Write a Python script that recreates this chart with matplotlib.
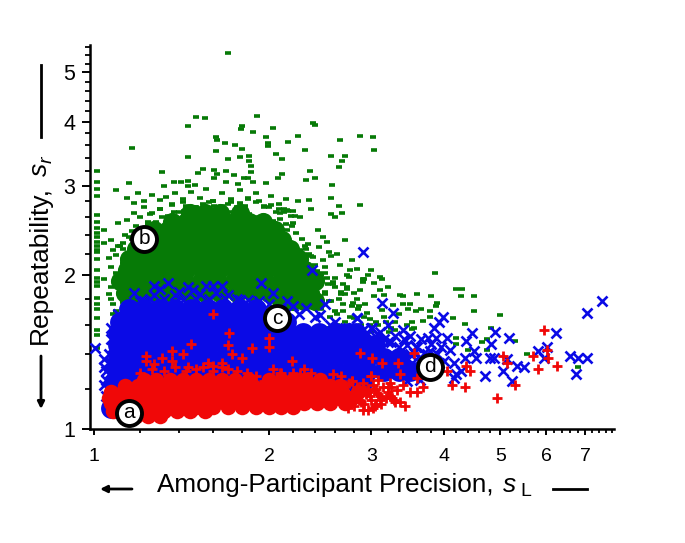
import matplotlib
matplotlib.use("Agg")
import matplotlib.pyplot as plt
from matplotlib.ticker import FixedLocator, FixedFormatter, NullFormatter

plt.rcParams['font.family'] = ['Liberation Sans', 'DejaVu Sans']

# dense cores: one row of x readings per y level
green_core_rows = {
    1.78: [1.15,1.2,2.1,2.2,2.3,2.4],
    1.85: [1.13,1.2,1.28,1.36,1.45,1.55,1.65,1.76,1.88,2.0,2.12,2.25,2.35],
    1.95: [1.11,1.18,1.26,1.34,1.43,1.53,1.63,1.74,1.85,1.97,2.1,2.22,2.33,2.4],
    2.05: [1.14,1.2,1.27,1.35,1.44,1.54,1.64,1.75,1.86,1.98,2.1,2.22,2.31],
    2.15: [1.15,1.21,1.29,1.37,1.46,1.56,1.66,1.77,1.88,1.99,2.12,2.25],
    2.25: [1.18,1.24,1.32,1.4,1.49,1.59,1.69,1.8,1.91,2.03,2.17],
    2.35: [1.21,1.28,1.36,1.45,1.55,1.65,1.76,1.87,1.99,2.11],
    2.45: [1.27,1.34,1.42,1.51,1.61,1.72,1.83,1.95,2.05],
    2.55: [1.36,1.44,1.53,1.63,1.74,1.85,1.95],
    2.65: [1.46,1.55,1.65,1.78],
}
blue_core_rows = {
    1.10: [1.07,1.09],
    1.16: [1.08,1.12],
    1.24: [1.09,1.14,1.2,1.26,1.4,1.6,1.8,2.0,2.2,2.4,2.6,2.8,2.9],
    1.30: [1.1,1.16,1.23,1.31,1.39,1.48,1.58,1.68,1.79,1.9,2.02,2.15,2.29,2.44,2.6,2.77,2.95,3.15,3.35,3.5],
    1.38: [1.1,1.16,1.23,1.31,1.39,1.48,1.58,1.68,1.79,1.9,2.02,2.15,2.29,2.44,2.6,2.77,2.95,3.15,3.35],
    1.46: [1.1,1.16,1.23,1.31,1.39,1.48,1.58,1.68,1.79,1.9,2.02,2.15,2.29,2.44,2.6,2.77,2.95,3.05],
    1.54: [1.1,1.16,1.23,1.31,1.39,1.48,1.58,1.68,1.79,1.9,2.02,2.15,2.29,2.44,2.6,2.75,2.82],
    1.62: [1.11,1.17,1.24,1.32,1.4,1.49,1.59,1.69,1.8,1.91,2.03,2.14],
    1.72: [1.15,1.22,1.3,1.38,1.47,1.57,1.67,1.78,1.9],
}
red_core_rows = {
    1.06: [1.13,1.18,1.24,1.3],
    1.085: [1.08,1.13,1.19,1.25,1.32,1.39,1.46,1.55],
    1.105: [1.5,1.6,1.7,1.8,1.9,2.0,2.1,2.2],
    1.125: [1.07,1.12,1.18,1.24,1.31,1.38,1.45,1.53,1.61,1.69,1.78,1.87,1.97,2.07,2.18,2.3,2.42,2.55,2.7],
    1.15: [1.06,1.11,1.17,1.23,1.3,1.37,1.44,1.52,1.6,1.68,1.77,1.86,1.96,2.06,2.17,2.28,2.4,2.52,2.65,2.78],
    1.18: [1.07,1.12,1.18,1.24,1.31,1.38,1.45,1.53,1.61,1.69,1.78,1.87,1.97,2.07,2.18,2.29,2.41,2.54,2.67,2.85],
    1.215: [1.13,1.19,1.25,1.32,1.39,1.46,1.54,1.62,1.7,1.79,1.88,1.98,2.08,2.19,2.3,2.42,2.55,2.65],
    1.25: [1.22,1.28,1.35,1.42,1.5,1.58,1.66,1.75,1.85,2.0,2.1,2.2,2.32,2.45],
}

# individually readable points
green_x = [1.7,1.5,1.55,1.45,1.91,1.8,1.79,1.88,2.03,2.38,2.4,1.62,1.63,1.68,1.75,1.8,1.98,1.99,1.99,2.16,2.24,2.31,2.65,2.87,3.02,3.03,
           1.16,1.45,1.62,1.7,1.78,1.85,1.85,1.86,1.86,2.06,2.11,2.56,2.7,2.67,2.64,2.35,1.31,1.54,1.51,1.61,1.63,1.69,1.74,1.81,1.84,2.11,2.07,2.32,2.4,
           2.57,2.56,2.64,2.87,2.67,2.56,2.6,2.34,2.36,2.24,2.7,2.43,2.48,2.52,2.54,1.15,1.09,1.32,1.37,1.41,1.45,1.45,1.49,1.61,1.69,1.77,1.88,1.98,
           1.14,1.19,1.17,1.22,1.26,1.3,1.33,1.17,1.14,1.1,1.07,1.04,1.04,1.04,1.07,1.09,1.11,
           1.38,1.42,1.47,1.52,1.56,1.6,1.66,1.72,1.78,1.84,1.9,1.96,2.02,2.08,2.14,2.2,1.36,1.44,1.5,1.58,1.64,1.7,1.76,1.82,1.92,2.0,2.06,2.12,2.18,2.26,
           1.22,1.26,1.3,1.34,1.4,1.24,1.2,1.18,1.28,1.16,1.13,1.12,
           3.86,3.36,3.6,3.8,4.2,4.3,4.28,4.5,4.5,5.0,4.15,4.35,3.9,3.88,3.78,3.5,3.47,3.58,3.4,3.27,4.82,4.75,4.65,4.2,4.2,4.4,4.75,5.3,5.55,6.8,3.53,3.53,3.68,3.78,
           2.75,2.92,3.1,2.9,3.03,3.13,2.68,2.87,3.1,3.03,3.15,2.72,2.79,2.93,3.13,2.95,3.15,2.68,2.65,2.76,2.9,3.0,2.5,2.6,2.78,
           2.15,2.23,2.2,2.32,2.38,2.48,2.52,2.09,2.15,2.03,2.28,2.33,2.44,2.56,2.62,2.72,2.84,2.96,2.3,2.36,2.42,2.5,2.58,2.66,2.8,2.86,2.4,2.46,2.54,2.62,
           3.2,3.3,3.4,3.55,3.65,3.22,3.35,3.45,
           1.3,1.36,1.42,1.48,1.54,1.6,1.66,1.72,1.78,1.84,1.9,1.96,2.02,2.08,2.12,2.16,2.22,1.25,1.31,1.37,1.43,1.49,1.55,1.61,1.67,1.73,1.79,1.85,1.91,1.97,2.03,2.09,2.14,2.19,
           1.2,1.24,1.18,1.22,1.15,1.19,1.12,1.16,1.1,1.14,1.08,1.12,1.06,1.09,1.07,1.1,1.06,1.08,1.07,1.09,1.1,1.08,
           2.2,2.26,2.31,2.36,2.28,2.34,2.4,2.44,2.38,2.45,2.5,2.46,2.53,2.6,2.58,2.66,2.72,2.5,2.56,2.64,2.7,2.78,2.84,2.6,2.68,2.76,2.85,2.92,2.98,3.06,2.55,2.62,2.7,2.8,2.88,2.98,3.08,3.18,3.25,3.3,2.5,2.6,2.72,2.85,3.0]
green_y = [5.45,4.09,4.07,3.93,4.1,3.92,3.87,3.82,3.9,3.98,3.95,3.73,3.69,3.64,3.6,3.54,3.73,3.64,3.58,3.65,3.76,3.52,3.69,3.76,3.73,3.52,
           3.55,3.41,3.51,3.38,3.41,3.43,3.35,3.28,3.19,3.46,3.39,3.43,3.43,3.35,3.26,3.2,3.19,3.23,3.18,3.22,3.16,3.2,3.15,3.11,3.11,3.16,3.1,3.08,3.1,
           3.01,2.84,2.74,2.75,2.65,2.64,2.6,2.81,2.7,2.8,2.35,2.45,2.38,2.33,2.22,3.03,2.94,3.0,3.05,3.05,3.06,3.0,3.01,3.11,3.05,3.02,3.05,3.04,
           2.84,2.9,2.77,2.8,2.88,2.81,2.85,2.65,2.57,2.53,2.35,2.45,2.32,1.97,2.08,2.19,2.28,
           2.9,2.82,2.92,2.84,2.95,2.8,2.9,2.78,2.94,2.82,2.9,2.74,2.86,2.76,2.82,2.68,2.76,2.74,2.72,2.78,2.72,2.76,2.72,2.74,2.8,2.72,2.66,2.7,2.62,2.6,
           2.72,2.65,2.7,2.62,2.66,2.55,2.6,2.5,2.55,2.44,2.4,2.25,
           2.02,1.83,1.84,1.82,1.88,1.88,1.82,1.82,1.7,1.67,1.65,1.61,1.77,1.74,1.7,1.76,1.72,1.7,1.76,1.75,1.58,1.5,1.48,1.51,1.47,1.43,1.43,1.49,1.4,1.32,1.62,1.57,1.63,1.66,
           1.99,1.97,1.99,1.94,1.93,1.97,1.92,1.87,1.87,1.82,1.83,1.88,1.77,1.76,1.71,1.69,1.66,1.76,2.1,2.05,1.97,2.05,2.02,1.98,2.14,
           2.45,2.42,2.53,2.25,2.17,2.14,1.98,2.65,2.69,2.45,2.36,2.3,2.27,2.18,2.2,2.0,2.06,2.0,2.1,1.95,2.04,1.86,1.92,1.84,1.85,1.74,1.8,1.72,1.78,1.68,
           1.9,1.62,1.82,1.58,1.72,1.55,1.68,1.6,
           2.7,2.75,2.78,2.72,2.76,2.8,2.74,2.82,2.77,2.84,2.78,2.72,2.75,2.7,2.66,2.68,2.62,2.64,2.6,2.66,2.68,2.72,2.7,2.74,2.7,2.66,2.7,2.64,2.6,2.62,2.56,2.58,2.52,
           2.5,2.45,2.52,2.42,2.46,2.38,2.42,2.32,2.36,2.28,2.2,2.24,2.12,2.16,2.02,1.9,1.96,1.84,1.76,1.8,1.7,1.64,1.68,
           2.3,2.24,2.28,2.18,2.12,2.2,2.1,2.02,2.06,1.97,2.08,2.0,1.92,1.9,1.94,1.86,1.9,1.84,1.78,1.8,1.84,1.74,1.8,1.7,1.7,1.66,1.72,1.66,1.6,1.62,1.66,1.6,1.62,1.65,1.6,1.64,1.6,1.62,1.58,1.56,1.58,1.56,1.54,1.53,1.55]
green_left_y = [3.2,3.05,2.96,2.86,2.63,2.55,2.48,2.42,2.38,2.33,2.28,2.24,2.22,2.15,2.05,1.98,1.94,1.91,1.81,1.76,1.72,1.65,1.56,1.53,1.44]
green_left_x = [1.01]*25

blue_x = [1.27,1.34,1.45,1.56,1.6,1.66,1.94,2.03,1.78,1.17,1.27,1.13,1.07,1.005,1.04,1.04,1.04,1.05,2.5,2.32,2.45,2.83,3.01,2.9,2.37,
          7.5,7.05,6.25,6.03,5.8,5.95,6.6,6.8,7.05,6.75,5.5,5.35,5.25,5.18,4.9,4.82,4.47,4.37,4.05,3.98,3.93,3.84,3.13,3.27,3.2,3.0,2.83,
          4.5,4.55,4.8,4.87,5.13,5.05,4.7,4.35,4.17,4.28,4.17,4.1,3.88,3.75,3.66,3.93,3.64,3.5,3.6,3.7,3.8,3.95,4.0,4.2,3.5,3.45,3.4,3.55,3.65,
          1.3,1.4,1.48,1.52,1.62,1.7,1.22,1.38,1.1,1.08,1.06,2.15,2.2,2.6,2.7,2.95,3.1,3.2,3.3,
          1.05,1.06,1.05,1.06,1.07,1.08,1.07,1.09,1.1,1.2,1.25,1.32,1.42,1.5,1.58,1.68,1.76,1.84,1.92,2.0,2.1,2.25,2.4,2.55,2.65,2.75,2.9,3.05,3.15,3.25,3.35,3.42,3.5,3.58,3.66,3.74,3.82,3.9,3.55,3.62,3.7,3.78,3.45,3.52]
blue_y = [1.91,1.93,1.9,1.91,1.91,1.91,1.93,1.85,1.79,1.85,1.83,1.7,1.58,1.44,1.37,1.32,1.22,1.16,1.76,1.73,1.67,1.65,1.58,2.22,2.05,
          1.78,1.69,1.54,1.45,1.42,1.38,1.39,1.38,1.38,1.28,1.32,1.33,1.24,1.51,1.55,1.47,1.54,1.49,1.51,1.66,1.62,1.58,1.77,1.69,1.6,1.58,1.65,
          1.42,1.38,1.38,1.38,1.37,1.3,1.27,1.38,1.35,1.3,1.26,1.43,1.51,1.51,1.5,1.35,1.25,1.3,1.45,1.41,1.47,1.45,1.36,1.28,1.52,1.46,1.56,1.41,1.38,
          1.88,1.86,1.87,1.84,1.85,1.83,1.78,1.83,1.62,1.5,1.28,1.78,1.74,1.62,1.58,1.54,1.55,1.48,1.52,
          1.3,1.4,1.25,1.2,1.5,1.45,1.35,1.55,1.68,1.78,1.8,1.8,1.79,1.8,1.8,1.81,1.8,1.79,1.78,1.76,1.72,1.68,1.66,1.6,1.58,1.56,1.56,1.52,1.5,1.48,1.45,1.5,1.4,1.45,1.35,1.4,1.33,1.4,1.32,1.28,1.33,1.42,1.24,1.35]

red_x = [5.95,6.03,5.7,6.05,5.8,6.27,5.3,4.93,5.13,5.05,4.35,4.43,4.37,4.13,4.05,3.68,3.6,3.5,3.43,3.36,3.23,3.06,3.02,2.74,2.81,2.87,3.01,3.13,3.34,3.55,3.36,3.23,3.08,3.0,2.75,3.03,2.93,3.4,3.59,
         1.6,1.71,1.7,2.0,2.0,1.87,1.47,1.73,1.8,1.36,1.42,1.23,1.31,1.36,1.23,1.27,1.57,1.66,1.6,2.19,2.2,2.03,2.09,2.3,1.45,1.66,1.83,2.18,2.58,3.0,
         1.2,1.26,1.32,1.38,1.44,1.5,1.54,1.6,1.7,1.76,1.9,1.96,2.1,2.26,2.36,2.46,2.66,2.78,2.9,3.1,3.2,3.28,2.86,2.96,2.7,
         2.78,2.84,2.9,2.96,3.02,3.08,3.14,3.2,3.26,3.32,2.82,2.88,2.94,3.0,3.06,3.12,3.18,3.24,3.3,2.72,2.8,2.86,2.92,2.98,3.04,3.1,2.8,2.9,2.84,2.96]
red_y = [1.56,1.43,1.39,1.38,1.31,1.33,1.22,1.15,1.35,1.39,1.21,1.3,1.33,1.22,1.3,1.21,1.18,1.18,1.11,1.13,1.16,1.12,1.1,1.1,1.15,1.41,1.38,1.35,1.35,1.41,1.28,1.23,1.25,1.27,1.23,1.19,1.19,1.22,1.26,
         1.68,1.54,1.46,1.51,1.45,1.44,1.47,1.4,1.38,1.42,1.4,1.39,1.38,1.36,1.36,1.34,1.35,1.35,1.33,1.36,1.29,1.31,1.29,1.31,1.32,1.32,1.29,1.25,1.28,1.27,
         1.29,1.31,1.3,1.32,1.3,1.31,1.32,1.3,1.31,1.3,1.27,1.24,1.29,1.28,1.29,1.24,1.27,1.24,1.2,1.16,1.21,1.14,1.14,1.09,1.22,
         1.24,1.2,1.23,1.18,1.22,1.17,1.21,1.18,1.15,1.19,1.16,1.13,1.17,1.14,1.2,1.12,1.15,1.21,1.13,1.13,1.11,1.19,1.12,1.16,1.11,1.14,1.18,1.09,1.21,1.2]

badge_labels = ["a", "b", "c", "d"]
badge_x = [1.149, 1.219, 2.066, 3.79]
badge_y = [1.075, 2.36, 1.65, 1.323]

x_major = [1, 2, 3, 4, 5, 6, 7]
y_major = [1, 2, 3, 4, 5]
x_minor = [1.2,1.4,1.6,1.8,2.2,2.4,2.6,2.8,3.2,3.4,3.6,3.8,4.2,4.4,4.6,4.8,5.2,5.4,5.6,5.8,6.2,6.4,6.6,6.8,7.2,7.4,7.6,7.8]
y_minor = [1.2,1.4,1.6,1.8,2.2,2.4,2.6,2.8,3.2,3.4,3.6,3.8,4.2,4.4,4.6,4.8,5.2,5.4,5.6]


def flatten(rows):
    xs, ys = [], []
    for y, row in rows.items():
        xs += row
        ys += [y] * len(row)
    return xs, ys


W, H = 685, 543
fig = plt.figure(figsize=(W / 100, H / 100), dpi=100)
ax = fig.add_axes([90 / W, 1 - 429 / H, (614 - 90) / W, (429 - 45) / H])
ax.set_xscale("log")
ax.set_yscale("log")
ax.set_xlim(0.984, 7.85)
ax.set_ylim(1.0, 5.66)

GREEN, BLUE, RED = "#067a06", "#0a0ae6", "#f00808"
gx, gy = flatten(green_core_rows)
ax.scatter(gx, gy, marker="o", s=190, c=GREEN, linewidths=0, zorder=2)
ax.plot(green_x + green_left_x, green_y + green_left_y, ls="", marker="_", ms=5, mew=2.6, color=GREEN, zorder=2)
bx, by = flatten(blue_core_rows)
ax.scatter(bx, by, marker="o", s=225, c=BLUE, linewidths=0, zorder=3)
ax.plot(blue_x, blue_y, ls="", marker="x", ms=7, mew=1.9, color=BLUE, zorder=3)
rx, ry = flatten(red_core_rows)
ax.scatter(rx, ry, marker="o", s=125, c=RED, linewidths=0, zorder=4)
ax.plot(red_x, red_y, ls="", marker="+", ms=7.5, mew=2, color=RED, zorder=4)

for t, x, y in zip(badge_labels, badge_x, badge_y):
    ax.plot([x], [y], marker="o", ms=18, mfc="white", mec="black", mew=2.8, zorder=6)
    ax.text(x, y, t, ha="center", va="center", fontsize=15, zorder=7)

for s in ("top", "right"):
    ax.spines[s].set_visible(False)
for s in ("left", "bottom"):
    ax.spines[s].set_linewidth(1.8)
ax.xaxis.set_major_locator(FixedLocator(x_major))
ax.xaxis.set_major_formatter(FixedFormatter([str(v) for v in x_major]))
ax.xaxis.set_minor_locator(FixedLocator(x_minor))
ax.xaxis.set_minor_formatter(NullFormatter())
ax.yaxis.set_major_locator(FixedLocator(y_major))
ax.yaxis.set_major_formatter(FixedFormatter([str(v) for v in y_major]))
ax.yaxis.set_minor_locator(FixedLocator(y_minor))
ax.yaxis.set_minor_formatter(NullFormatter())
ax.tick_params(axis="x", which="major", length=4.5, width=1.4, labelsize=14, pad=9)
ax.tick_params(axis="x", which="minor", length=3, width=1.3)
ax.tick_params(axis="y", which="major", length=5.5, width=1.4, labelsize=15.5, pad=5)
ax.tick_params(axis="y", which="minor", length=3.5, width=1.3)

fig.text(157 / W, 1 - 485 / H, "Among-Participant Precision,", fontsize=18.8, ha="left", va="center")
fig.text(503 / W, 1 - 485 / H, "s", fontsize=19, style="italic", ha="left", va="center")
fig.text(520 / W, 1 - 491 / H, "L", fontsize=14, ha="left", va="center")
fig.text(40 / W, 1 - 344 / H, "Repeatability,", rotation=90, fontsize=19, ha="center", va="bottom")
fig.text(40 / W, 1 - 176 / H, "s", rotation=90, fontsize=19, style="italic", ha="center", va="bottom")
fig.text(47 / W, 1 - 163 / H, "r", rotation=90, fontsize=14, style="italic", ha="center", va="bottom")

overlay = fig.add_axes([0, 0, 1, 1], facecolor="none")
overlay.set_xlim(0, W)
overlay.set_ylim(H, 0)
overlay.axis("off")
overlay.annotate("", xy=(100, 489), xytext=(132, 489), arrowprops=dict(arrowstyle="-|>", lw=2, color="black", shrinkA=0, shrinkB=0))
overlay.plot([553, 587], [489, 489], color="black", lw=2)
overlay.annotate("", xy=(41, 409), xytext=(41, 356), arrowprops=dict(arrowstyle="-|>", lw=2, color="black", shrinkA=0, shrinkB=0))
overlay.plot([41, 41], [65, 137], color="black", lw=2)

fig.savefig("out.png", dpi=100)
